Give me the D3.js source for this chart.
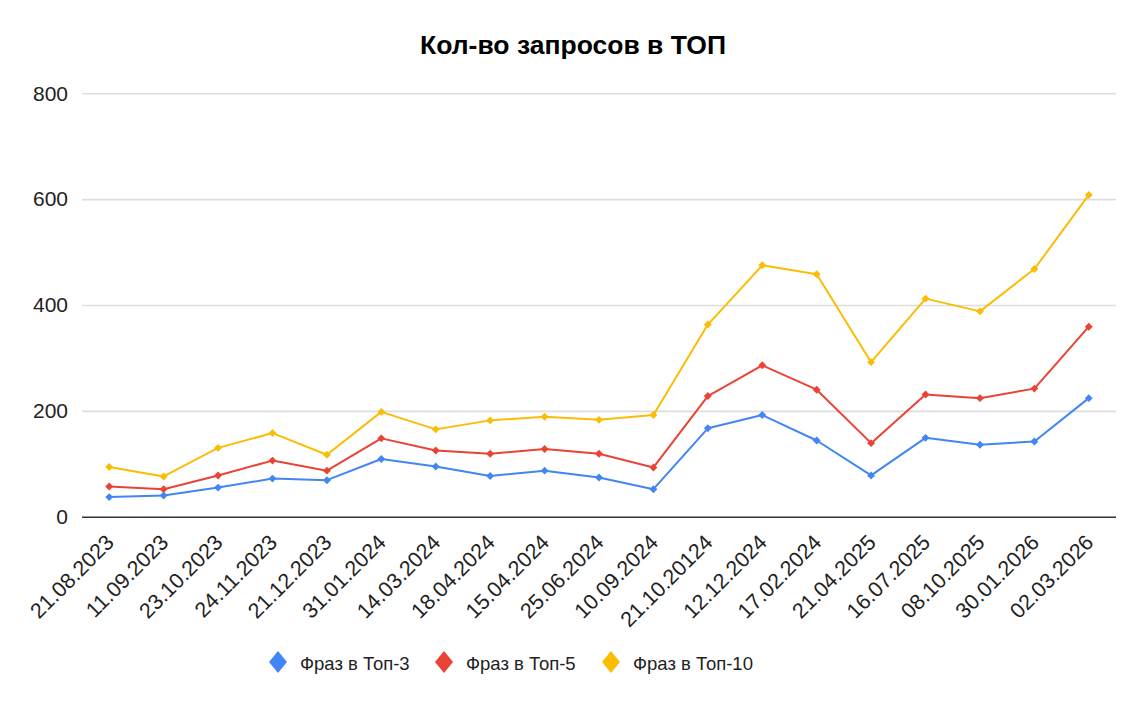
<!DOCTYPE html>
<html>
<head>
<meta charset="utf-8">
<script src="https://cdn.jsdelivr.net/npm/d3@7"></script>
<style>
  body { margin: 0; background: #fff; }
  text { font-family: "Liberation Sans", Arial, sans-serif; }
</style>
</head>
<body>
<svg id="chart" width="1147" height="706"></svg>
<script>
var dates = ['21.08.2023','11.09.2023','23.10.2023','24.11.2023','21.12.2023','31.01.2024','14.03.2024',
  '18.04.2024','15.04.2024','25.06.2024','10.09.2024','21.10.20124','12.12.2024','17.02.2024',
  '21.04.2025','16.07.2025','08.10.2025','30.01.2026','02.03.2026']
var top3 = [37, 40, 55, 72, 69, 109, 95, 77, 87, 74, 52, 167, 192, 144, 78, 149, 136, 142, 224]
var top5 = [57, 52, 78, 106, 87, 148, 125, 119, 128, 119, 93, 228, 286, 240, 139, 231, 224, 242, 359]
var top10 = [94, 76, 130, 158, 117, 198, 165, 182, 189, 183, 192, 363, 475, 458, 292, 412, 388, 468, 608]
var yTicks = [0, 200, 400, 600, 800]
var seriesNames = ['Фраз в Топ-3', 'Фраз в Топ-5', 'Фраз в Топ-10']
var seriesColors = ['#4285F4', '#EA4335', '#FBBC04']

var svg = d3.select('#chart')
var left = 82, right = 1116, top_y = 93.3, bottom_y = 516.7

var x = d3.scaleBand().domain(dates).range([left, right])
var y = d3.scaleLinear().domain([0, 800]).range([bottom_y, top_y])

function xc(d) { return x(d) + x.bandwidth() / 2 }

svg.append('text')
  .attr('x', 573).attr('y', 54)
  .attr('text-anchor', 'middle')
  .attr('font-size', 26.5).attr('font-weight', 'bold')
  .attr('fill', '#000')
  .text('Кол-во запросов в ТОП')

// grid
var yAxis = d3.axisLeft(y).tickValues(yTicks).tickSize(-(right - left)).tickPadding(14)
var gy = svg.append('g').attr('transform', 'translate(' + left + ',0)').call(yAxis)
gy.select('.domain').remove()
gy.selectAll('.tick line').attr('stroke', function(d) { return d == 0 ? '#333' : '#ddd' })
  .attr('stroke-width', 1.6)
gy.selectAll('.tick text').attr('font-size', 21).attr('fill', '#222')
  .attr('font-family', '"Liberation Sans", Arial, sans-serif')

// x labels
var xAxis = d3.axisBottom(x).tickSize(0).tickPadding(0)
var gx = svg.append('g').attr('transform', 'translate(0,' + bottom_y + ')').call(xAxis)
gx.select('.domain').remove()
gx.selectAll('.tick text')
  .attr('font-size', 21.5).attr('fill', '#222')
  .attr('font-family', '"Liberation Sans", Arial, sans-serif')
  .attr('text-anchor', 'end')
  .attr('dy', null).attr('y', 0)
  .attr('transform', 'translate(6,27) rotate(-45)')

var series = [top3, top5, top10]
var line = d3.line().x(function(d, i) { return xc(dates[i]) }).y(function(d) { return y(d) })

// draw top-10 first so blue ends on top
for (var s = series.length - 1; s >= 0; s--) {
  var g = svg.append('g')
  g.append('path').datum(series[s])
    .attr('d', line).attr('fill', 'none')
    .attr('stroke', seriesColors[s]).attr('stroke-width', 2)
    .attr('stroke-linejoin', 'round')
  g.selectAll('path.pt').data(series[s]).enter().append('path')
    .attr('class', 'pt')
    .attr('d', d3.symbol().type(d3.symbolDiamond2).size(40))
    .attr('transform', function(d, i) { return 'translate(' + xc(dates[i]) + ',' + y(d) + ')' })
    .attr('fill', seriesColors[s])
}

// legend
var legendX = [278, 444, 611]
var lg = svg.append('g')
seriesNames.forEach(function(name, i) {
  lg.append('path')
    .attr('d', 'M0,-11L9,0L0,11L-9,0Z')
    .attr('transform', 'translate(' + legendX[i] + ',662)')
    .attr('fill', seriesColors[i])
  lg.append('text')
    .attr('x', legendX[i] + 22).attr('y', 670)
    .attr('font-size', 18.5).attr('fill', '#222')
    .text(name)
})
</script>
</body>
</html>
